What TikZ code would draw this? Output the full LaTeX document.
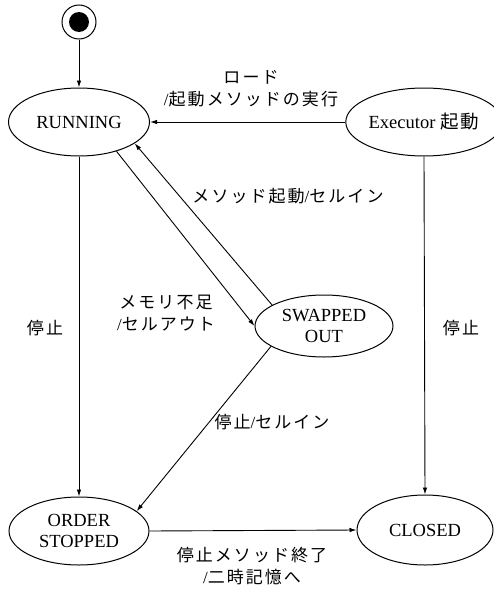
\documentclass[tikz,border=0pt]{standalone}
\usepackage{fontspec}
\setmainfont{Liberation Serif}
\newfontfamily\jpf{Noto Sans CJK JP}[LetterSpace=12]
\usetikzlibrary{shapes.geometric,arrows.meta}
\newcommand\J[1]{{\jpf #1}}
\begin{document}
\begin{tikzpicture}[x=1pt,y=-1pt,
  st/.style={draw,ellipse,line width=1pt,inner sep=0pt,align=center,
             font=\fontsize{18.5}{21}\selectfont},
  lab/.style={align=center,inner sep=0pt,font=\fontsize{17}{22}\selectfont},
  arr/.style={line width=0.9pt,-{Latex[length=7pt,width=4.5pt]}}]
\useasboundingbox (0,0) rectangle (493,589);
% states
\node[circle,draw,line width=1pt,minimum size=34pt,inner sep=0pt] (init) at (79,22) {};
\node[circle,fill,minimum size=20pt,inner sep=0pt] (initdot) at (init.center) {};
\node[st,minimum width=141pt,minimum height=68pt] (run) at (79,122) {RUNNING};
\node[st,minimum width=138pt,minimum height=68pt] (exe) at (424,122) {Executor \J{起動}};
\node[st,minimum width=138pt,minimum height=62pt] (swp) at (324,326) {SWAPPED\\OUT};
\node[st,minimum width=140pt,minimum height=68pt] (ord) at (79,531) {ORDER\\STOPPED};
\node[st,minimum width=136pt,minimum height=70pt] (clo) at (425,530) {CLOSED};
% transitions
\draw[arr] (init) -- (run);
\draw[arr] (exe.west) -- (run.east);
\draw[arr] (run.south) -- (ord.north);
\draw[arr] (exe.south) -- (clo.north);
\draw[arr] (run.-38) -- (swp.west);
\draw[arr] (swp.158) -- (run.-21);
\draw[arr] (swp.201) -- (ord.19);
\draw[arr] (ord.east) -- (clo.west);
% labels
\node[lab] (l1) at (251,89) {\J{ロード}\\/\J{起動メソッドの実行}};
\node[lab] (l2) at (288,196) {\J{メソッド起動}/\J{セルイン}};
\node[lab] (l3) at (166,313) {\J{メモリ不足}\\/\J{セルアウト}};
\node[lab] (l4) at (45,328) {\J{停止}};
\node[lab] (l5) at (461,328) {\J{停止}};
\node[lab] (l6) at (272,422) {\J{停止}/\J{セルイン}};
\node[lab] (l7) at (252,566) {\J{停止メソッド終了}\\/\J{二時記憶へ}};
\end{tikzpicture}
\end{document}
